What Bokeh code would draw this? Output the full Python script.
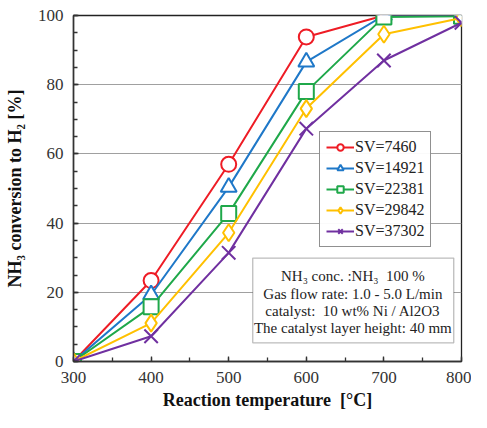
from bokeh.plotting import figure
from bokeh.models import (SingleIntervalTicker, Range1d, Legend, LegendItem,
                          BoxAnnotation, Label)
from bokeh.embed import file_html
from bokeh.resources import INLINE

temps = [300, 400, 500, 600, 700, 800]
sv_labels = ["SV=7460", "SV=14921", "SV=22381", "SV=29842", "SV=37302"]
sv7460 = [0, 23.4, 57.0, 93.8, 100.0, 100.0]
sv14921 = [0, 19.3, 50.4, 86.6, 100.0, 100.0]
sv22381 = [0, 15.8, 42.8, 78.0, 99.6, 99.8]
sv29842 = [0, 11.1, 37.2, 73.1, 94.6, 99.3]
sv37302 = [0, 7.3, 31.4, 67.3, 87.0, 97.9]
series = [sv7460, sv14921, sv22381, sv29842, sv37302]
colors = ["#ee1c25", "#1f78c8", "#1fa84a", "#ffc000", "#7030a0"]
markers = ["circle", "triangle", "square", "diamond", "x"]
msizes = [15, 16, 15, 17, 19]
info_lines = ["NH\u2083 conc. :NH\u2083\u00a0 100 %",
              "Gas flow rate: 1.0 - 5.0 L/min",
              "catalyst:\u00a0 10 wt% Ni / Al2O3",
              "The catalyst layer height: 40 mm"]

FONT = "Liberation Serif"

p = figure(width=471, height=412, output_backend="svg", toolbar_location=None,
           x_range=Range1d(300, 800), y_range=Range1d(0, 100),
           min_border_left=73, min_border_right=10, min_border_top=15,
           min_border_bottom=48)
p.outline_line_color = "#222222"
p.outline_line_width = 1.3
p.background_fill_color = "white"

p.xgrid.visible = False
p.ygrid.grid_line_color = "#a0a0a0"
p.ygrid.grid_line_width = 1.2

p.xaxis.ticker = SingleIntervalTicker(interval=100, num_minor_ticks=2)
p.yaxis.ticker = SingleIntervalTicker(interval=20, num_minor_ticks=4)
for axes in (p.xaxis, p.yaxis):
    axes.major_tick_in = 5
    axes.major_tick_out = 0
    axes.minor_tick_in = 4
    axes.minor_tick_out = 0
    axes.axis_line_color = "#333333"
    axes.axis_line_width = 1.5
    axes.major_tick_line_color = "#333333"
    axes.minor_tick_line_color = "#333333"
    axes.major_tick_line_width = 1.3
    axes.minor_tick_line_width = 1.3
    axes.major_label_text_font = FONT
    axes.major_label_text_font_size = "17px"
    axes.major_label_text_color = "#333333"
    axes.axis_label_text_font = FONT
    axes.axis_label_text_font_size = "18px"
    axes.axis_label_text_font_style = "bold"
    axes.axis_label_text_color = "#111111"

p.xaxis.axis_label = "Reaction temperature\u00a0 [\u00b0C]"
p.yaxis.axis_label = "NH\u2083 conversion to H\u2082 [%]"
p.xaxis.major_label_standoff = 10
p.yaxis.major_label_standoff = 10
p.xaxis.axis_label_standoff = 4
p.yaxis.axis_label_standoff = 10

items = []
for vals, col, mk, sz, lab in zip(series, colors, markers, msizes, sv_labels):
    r1 = p.line(temps, vals, line_color=col, line_width=2)
    r2 = p.scatter(temps, vals, marker=mk, size=sz, line_color=col,
                   line_width=2, fill_color="white")
    items.append(LegendItem(label=lab, renderers=[r1, r2]))

legend = Legend(items=items, location=(246, 114))
legend.label_text_font = FONT
legend.label_text_font_size = "16px"
legend.label_text_color = "#222222"
legend.border_line_color = "#222222"
legend.border_line_width = 1.3
legend.glyph_width = 28
legend.glyph_height = 16
legend.label_height = 16
legend.spacing = 3
legend.padding = 6
legend.margin = 0
legend.label_standoff = 1
p.add_layout(legend)

p.add_layout(BoxAnnotation(left=531, right=790, bottom=5.4, top=29.9,
                           fill_color="white", fill_alpha=1,
                           line_color="#222222", line_width=1.3))
ys = [24.6, 19.6, 14.5, 9.6]
for txt, yv in zip(info_lines, ys):
    p.add_layout(Label(x=660, y=yv, text=txt, text_font=FONT,
                       text_font_size="15px", text_align="center",
                       text_baseline="middle", text_color="#222222"))

open("out.html", "w").write(file_html(p, INLINE))
